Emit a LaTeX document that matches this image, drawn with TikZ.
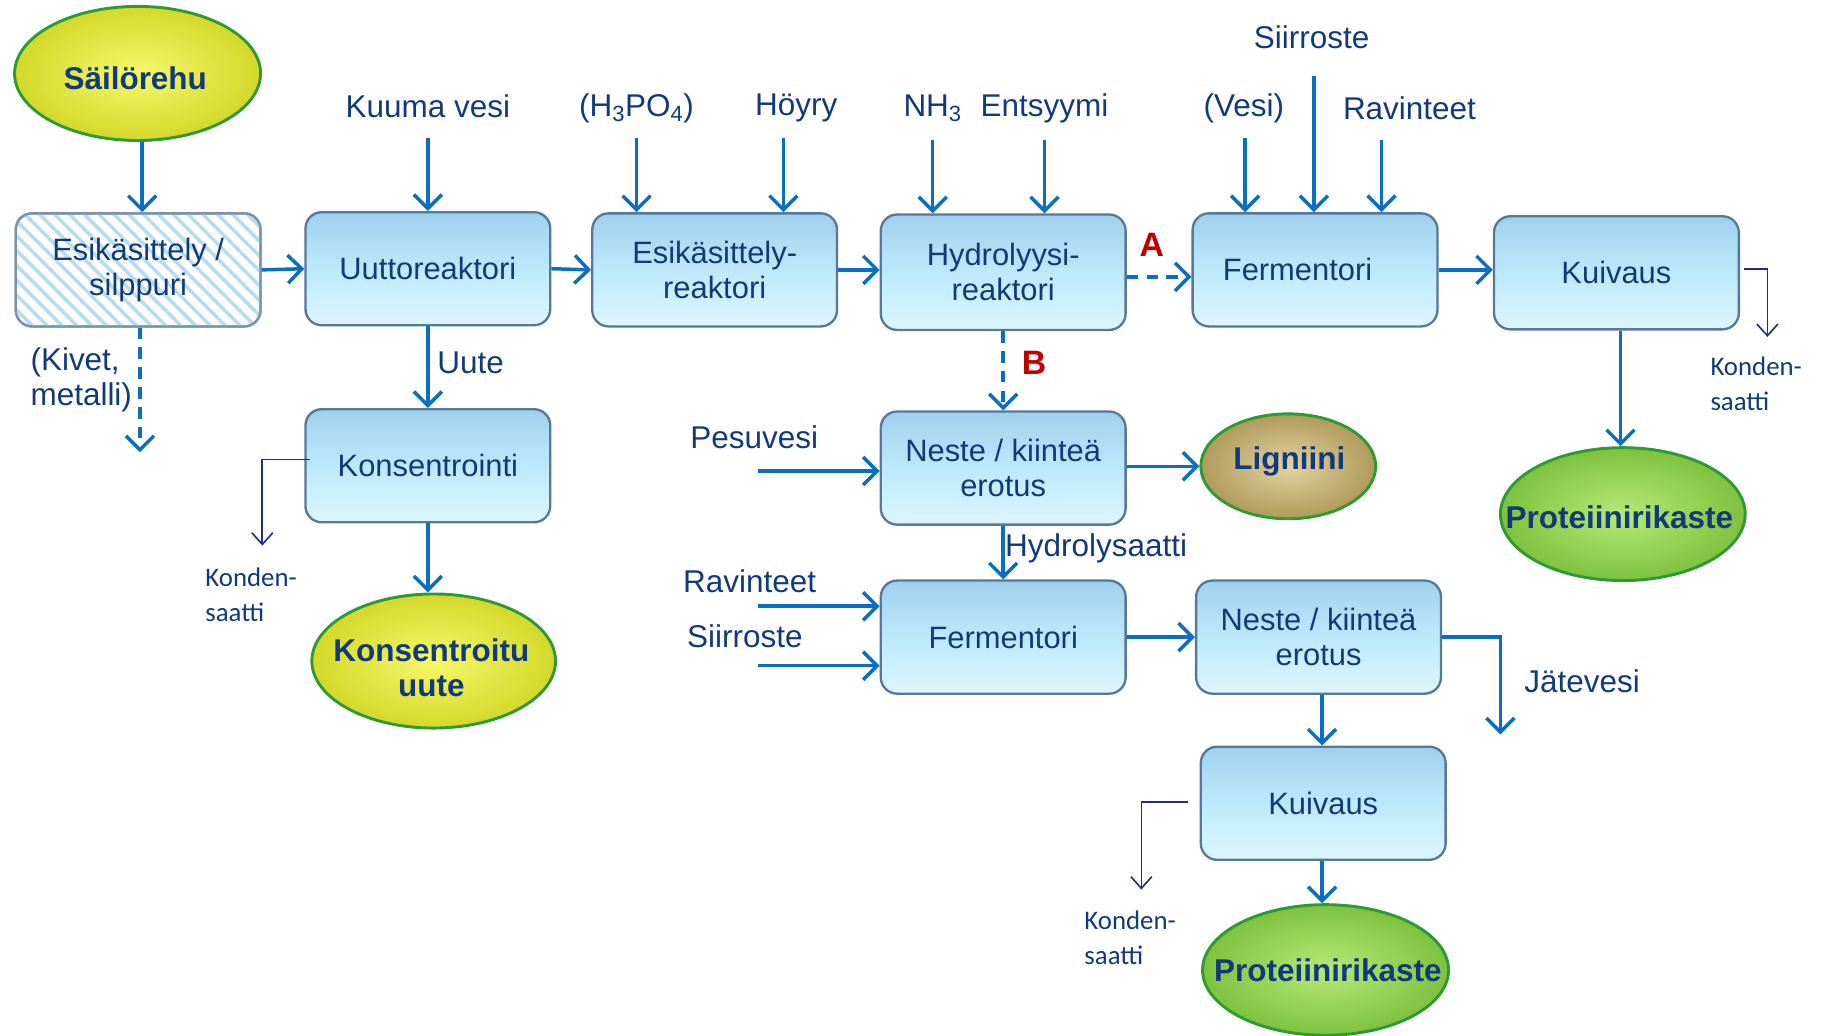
\documentclass[tikz,border=0pt]{standalone}
\usepackage{fontspec}
\setmainfont{Liberation Sans}
\newfontfamily\calib{Carlito}
\usetikzlibrary{arrows.meta,shapes.geometric,patterns.meta,shadings}
\definecolor{navy}{HTML}{113A7A}
\definecolor{arrblue}{HTML}{0A6FC2}
\definecolor{thinnavy}{HTML}{1F2F80}
\definecolor{boxedge}{HTML}{56789A}
\definecolor{redlab}{HTML}{C00000}
\definecolor{boxtop}{HTML}{9FD0EC}
\definecolor{boxmid}{HTML}{BDE9FB}
\definecolor{boxbot}{HTML}{DDF6FE}
\definecolor{hatchc}{HTML}{B5DDF2}
\definecolor{yin}{HTML}{F6F86A}
\definecolor{yout}{HTML}{D4D82A}
\definecolor{gin}{HTML}{B8E878}
\definecolor{gout}{HTML}{7DC23E}
\definecolor{tin}{HTML}{E2D3A0}
\definecolor{tout}{HTML}{B09A5C}
\definecolor{elledge}{HTML}{2E9A33}
\tikzset{
  x=1pt, y=-1pt,
  proc/.style={rectangle, rounded corners=14pt, minimum width=210pt, minimum height=97pt,
    draw=boxedge, line width=2pt, top color=boxtop, bottom color=boxbot, middle color=boxmid,
    text=navy, align=center, font=\fontsize{26.5}{30}\selectfont, inner sep=2pt},
  hatchbox/.style={rectangle, rounded corners=14pt, minimum width=210pt, minimum height=97pt,
    draw=boxedge!80, line width=2pt,
    text=navy, align=center, font=\fontsize{26.5}{30}\selectfont, inner sep=2pt},
  prod/.style={ellipse, draw=elledge, line width=2.5pt, inner sep=0pt},
  prodtext/.style={text=navy, align=center, font=\bfseries\fontsize{27}{30}\selectfont, inner sep=0pt},
  yell/.style={prod, inner color=yin, outer color=yout},
  greenell/.style={prod, inner color=gin, outer color=gout},
  tanell/.style={prod, inner color=tin, outer color=tout},
  lab/.style={text=navy, font=\fontsize{27}{30}\selectfont, inner sep=0pt, align=left},
  klab/.style={text=navy, font=\calib\fontsize{23}{30}\selectfont, inner sep=0pt, align=left},
  ablab/.style={text=redlab, font=\bfseries\fontsize{29}{30}\selectfont, inner sep=0pt},
  arr/.style={draw=arrblue, line width=3pt, -{Straight Barb[length=12pt,width=24pt,line width=3pt]}},
  darr/.style={arr, dash pattern=on 10pt off 7pt},
  karr/.style={draw=thinnavy, line width=1.4pt, -{Straight Barb[length=10pt,width=18pt,line width=1.4pt]}},
}
\begin{document}
\begin{tikzpicture}
\useasboundingbox (0,0) rectangle (1568,888);

% process boxes
\node[hatchbox, fill=white] (esik) at (118.5,231.5) {};
\begin{scope}
\clip[rounded corners=14pt] ([xshift=1pt,yshift=-1pt]esik.north west) rectangle ([xshift=-1pt,yshift=1pt]esik.south east);
\fill[pattern={Lines[angle=-45,distance=9pt,line width=3pt]}, pattern color=hatchc]
  (esik.north west) rectangle (esik.south east);
\end{scope}
\node[hatchbox] at (esik) {Esikäsittely /\\silppuri};
\node[proc] (uutto) at (367,230.5) {Uuttoreaktori};
\node[proc] (esikr) at (613,231.5) {Esikäsittely-\\reaktori};
\node[proc, minimum height=99pt] (hydro) at (860.5,233.5) {Hydrolyysi-\\reaktori};
\node[proc] (ferm1) at (1128,231.5) {\hspace*{-30pt}Fermentori};
\node[proc] (kuiv1) at (1386.5,234) {Kuivaus};
\node[proc] (kons) at (367,399.5) {Konsentrointi};
\node[proc] (neste1) at (860.5,401.5) {Neste / kiinteä\\erotus};
\node[proc] (ferm2) at (860.5,546.5) {Fermentori};
\node[proc] (neste2) at (1131,546.5) {Neste / kiinteä\\erotus};
\node[proc] (kuiv2) at (1135,689) {Kuivaus};

% product ellipses
\node[yell, minimum width=211pt, minimum height=115pt] (sail) at (118,63) {};
\node[prodtext] (sailT) at (116,67) {Säilörehu};
\node[yell, minimum width=209pt, minimum height=115pt] (konsu) at (372,567) {};
\node[prodtext] (konsuT) at (370,573) {Konsentroitu\\uute};
\node[tanell, minimum width=150pt, minimum height=90pt] (lign) at (1105,400) {};
\node[prodtext] (lignT) at (1106,396) {Ligniini};
\node[greenell, minimum width=210pt, minimum height=114pt] (prot1) at (1392,441) {};
\node[prodtext] (prot1T) at (1389,444) {Proteiinirikaste};
\node[greenell, minimum width=211pt, minimum height=112pt] (prot2) at (1137,832) {};
\node[prodtext] (prot2T) at (1139,832) {Proteiinirikaste};

% input labels
\node[lab] (kv) at (367,91) {Kuuma vesi};
\node[lab] (h3po4) at (546,93) {(H\textsubscript{3}PO\textsubscript{4})};
\node[lab] (hoyry) at (683,93) {Höyry};
\node[lab] (nh3) at (800,93) {NH\textsubscript{3}};
\node[lab] (ents) at (896,93) {Entsyymi};
\node[lab] (siir1) at (1125,32) {Siirroste};
\node[lab] (vesi) at (1067,93) {(Vesi)};
\node[lab] (rav1) at (1209,93) {Ravinteet};
\node[lab, anchor=west] (uute) at (375,311) {Uute};
\node[lab, anchor=west] (kivet) at (26,326) {(Kivet,\\metalli)};
\node[lab] (pesu) at (647,375) {Pesuvesi};
\node[lab, anchor=west] (hydrol) at (862,470) {Hydrolysaatti};
\node[lab] (rav2) at (643,499) {Ravinteet};
\node[lab] (siir2) at (639,546) {Siirroste};
\node[lab] (jate) at (1357,584) {Jätevesi};
\node[klab, anchor=west] (kond1) at (176,510) {Konden-\\saatti};
\node[klab, anchor=west] (kond2) at (1467,329) {Konden-\\saatti};
\node[klab, anchor=west] (kond3) at (930,804) {Konden-\\saatti};
\node[ablab] (labA) at (988,210) {A};
\node[ablab] (labB) at (887,311) {B};

% free-end coordinates
\coordinate (kvS) at (367,118);
\coordinate (h3S) at (546,118);
\coordinate (hoS) at (672,118);
\coordinate (nhS) at (800,120);
\coordinate (enS) at (896,120);
\coordinate (siS) at (1127,65);
\coordinate (veS) at (1068,118);
\coordinate (raS) at (1185,120);
\coordinate (kivE) at (120,388);
\coordinate (pesS) at (650,404);
\coordinate (rav2S) at (650,520);
\coordinate (siir2S) at (650,571);
\coordinate (jateE) at (1287,630);
\coordinate (k1E) at (225,468);
\coordinate (k2E) at (1516,289);
\coordinate (k3E) at (979,763);
\coordinate (x122) at (122,0);
\coordinate (x1390) at (1390,0);
\coordinate (x1134) at (1134,0);

% main flow
\draw[arr] (sail.south -| x122) -- (esik.north -| x122);
\draw[arr] (esik.east) -- (uutto.west);
\draw[arr] (uutto.east) -- (esikr.west);
\draw[arr] (esikr.east) -- (esikr.east -| hydro.west);
\draw[darr] ([yshift=-4pt]hydro.east) -- ([yshift=-4pt]hydro.east -| ferm1.west);
\draw[arr] (ferm1.east) -- (ferm1.east -| kuiv1.west);
\draw[arr] (kuiv1.south -| x1390) -- (prot1.north -| x1390);

\draw[darr] (esik.south -| kivE) -- (kivE);
\draw[arr] (uutto.south) -- (kons.north);
\draw[arr] (kons.south) -- (konsu.north -| kons.south);
\draw[darr] (hydro.south) -- (neste1.north);
\draw[arr] (neste1.east |- lign.west) -- (lign.west);
\draw[arr] (neste1.south) -- (ferm2.north);
\draw[arr] (ferm2.east) -- (neste2.west);
\draw[arr] (neste2.south -| x1134) -- (kuiv2.north -| x1134);
\draw[arr] (kuiv2.south -| x1134) -- (prot2.north -| x1134);
\draw[arr] (neste2.east) -| (jateE);

% top inputs
\draw[arr] (kvS) -- (kvS |- uutto.north);
\draw[arr] (h3S) -- (h3S |- esikr.north);
\draw[arr] (hoS) -- (hoS |- esikr.north);
\draw[arr] (nhS) -- (nhS |- hydro.north);
\draw[arr] (enS) -- (enS |- hydro.north);
\draw[arr] (siS) -- (siS |- ferm1.north);
\draw[arr] (veS) -- (veS |- ferm1.north);
\draw[arr] (raS) -- (raS |- ferm1.north);

% side inputs
\draw[arr] (pesS) -- (pesS -| neste1.west);
\draw[arr] (rav2S) -- (rav2S -| ferm2.west);
\draw[arr] (siir2S) -- (siir2S -| ferm2.west);

% condensate outlets
\draw[karr] ([xshift=5pt,yshift=5.5pt]kons.west) -| (k1E);
\draw[karr] ([xshift=3pt,yshift=3pt]kuiv1.east) -| (k2E);
\draw[karr] ([xshift=-10pt,yshift=1pt]kuiv2.west) -| (k3E);
\end{tikzpicture}
\end{document}
